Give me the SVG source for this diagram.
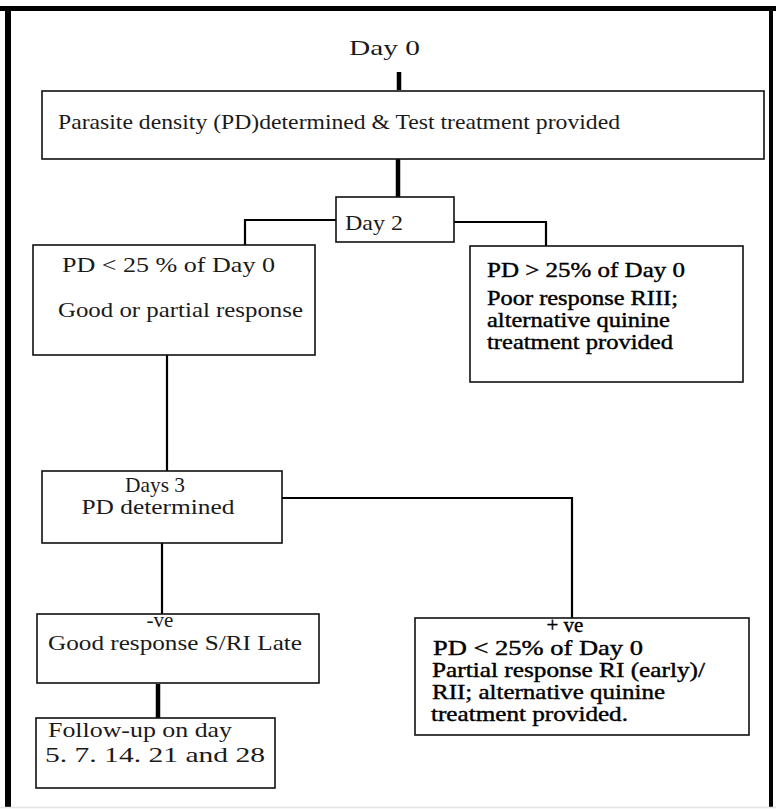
<svg xmlns="http://www.w3.org/2000/svg" width="776" height="809" viewBox="0 0 776 809">
  <style>
    .box { fill: #fff; stroke: #111; stroke-width: 1.6; }
    .conn { fill: none; stroke: #000; stroke-width: 2.2; }
    .thick { stroke-width: 4.5; }
    .t { font-family: "Liberation Serif", "Times New Roman", serif; font-size: 21px; fill: #1a1a1a; }
    .d { fill: #000; stroke: #000; stroke-width: 0.4; }
    .c { text-anchor: middle; }
  </style>
  <rect width="776" height="809" fill="#fff"/>
  <g id="frame">
    <rect x="0" y="6" width="776" height="5" fill="#000"/>
    <rect x="5" y="6" width="6" height="801" fill="#000"/>
    <rect x="769" y="6" width="4" height="801" fill="#000"/>
    <line x1="0" y1="807.5" x2="776" y2="807.5" stroke="#e4e4e4" stroke-width="1.5"/>
  </g>
  <g id="connectors">
    <line class="conn thick" x1="399" y1="72" x2="399" y2="90"/>
    <line class="conn thick" x1="398" y1="159" x2="398" y2="197"/>
    <path class="conn" d="M336 220 H245 V245"/>
    <path class="conn" d="M454 222 H546 V246"/>
    <line class="conn" x1="167" y1="355" x2="167" y2="471"/>
    <path class="conn" d="M282 498 H572 V618"/>
    <line class="conn" x1="162" y1="543" x2="162" y2="614"/>
    <line class="conn thick" x1="158" y1="684" x2="158" y2="718"/>
  </g>
  <g id="day0">
    <text class="t" x="349" y="55" font-size="25" textLength="71" lengthAdjust="spacingAndGlyphs">Day 0</text>
  </g>
  <g id="top">
    <rect class="box" x="42" y="91" width="722" height="68"/>
    <text class="t" x="58" y="129" textLength="562" lengthAdjust="spacingAndGlyphs">Parasite density (PD)determined &amp; Test treatment provided</text>
  </g>
  <g id="day2">
    <rect class="box" x="336" y="197" width="118" height="45"/>
    <text class="t" x="345" y="230" font-size="24" textLength="58" lengthAdjust="spacingAndGlyphs">Day 2</text>
  </g>
  <g id="good">
    <rect class="box" x="33" y="245" width="282" height="110"/>
    <text class="t" x="62" y="272" font-size="20" textLength="213" lengthAdjust="spacingAndGlyphs">PD &lt; 25 % of Day 0</text>
    <text class="t" x="58" y="317" font-size="22" textLength="245" lengthAdjust="spacingAndGlyphs">Good or partial response</text>
  </g>
  <g id="poor">
    <rect class="box" x="470" y="246" width="273" height="136"/>
    <text class="t d" x="487" y="277" font-size="20" textLength="198" lengthAdjust="spacingAndGlyphs">PD &gt; 25% of Day 0</text>
    <text class="t d" x="487" y="305" font-size="18" textLength="191" lengthAdjust="spacingAndGlyphs">Poor response RIII;</text>
    <text class="t d" x="487" y="327" font-size="18" textLength="183" lengthAdjust="spacingAndGlyphs">alternative quinine</text>
    <text class="t d" x="487" y="349" font-size="18" textLength="186" lengthAdjust="spacingAndGlyphs">treatment provided</text>
  </g>
  <g id="day3">
    <rect class="box" x="42" y="471" width="240" height="72"/>
    <text class="t c" x="155" y="492" font-size="18" textLength="60" lengthAdjust="spacingAndGlyphs">Days 3</text>
    <text class="t c" x="158" y="514" font-size="18" textLength="153" lengthAdjust="spacingAndGlyphs">PD determined</text>
  </g>
  <g id="neg">
    <rect class="box" x="37" y="614" width="282" height="69"/>
    <text class="t c" x="160" y="627" font-size="18">-ve</text>
    <text class="t" x="48" y="650" textLength="254" lengthAdjust="spacingAndGlyphs">Good response S/RI Late</text>
  </g>
  <g id="followup">
    <rect class="box" x="36" y="718" width="239" height="70"/>
    <text class="t" x="48" y="737" font-size="20" textLength="184" lengthAdjust="spacingAndGlyphs">Follow-up on day</text>
    <text class="t" x="45" y="762" font-size="20" textLength="220" lengthAdjust="spacingAndGlyphs">5. 7. 14. 21 and 28</text>
  </g>
  <g id="pos">
    <rect class="box" x="415" y="618" width="334" height="117"/>
    <text class="t d c" x="565" y="632" font-size="18">+ ve</text>
    <text class="t d" x="433" y="655" font-size="19" textLength="210" lengthAdjust="spacingAndGlyphs">PD &lt; 25% of Day 0</text>
    <text class="t d" x="432" y="677" font-size="19" textLength="273" lengthAdjust="spacingAndGlyphs">Partial response RI (early)/</text>
    <text class="t d" x="432" y="699" font-size="19" textLength="233" lengthAdjust="spacingAndGlyphs">RII; alternative quinine</text>
    <text class="t d" x="431" y="721" font-size="19" textLength="197" lengthAdjust="spacingAndGlyphs">treatment provided.</text>
  </g>
</svg>
